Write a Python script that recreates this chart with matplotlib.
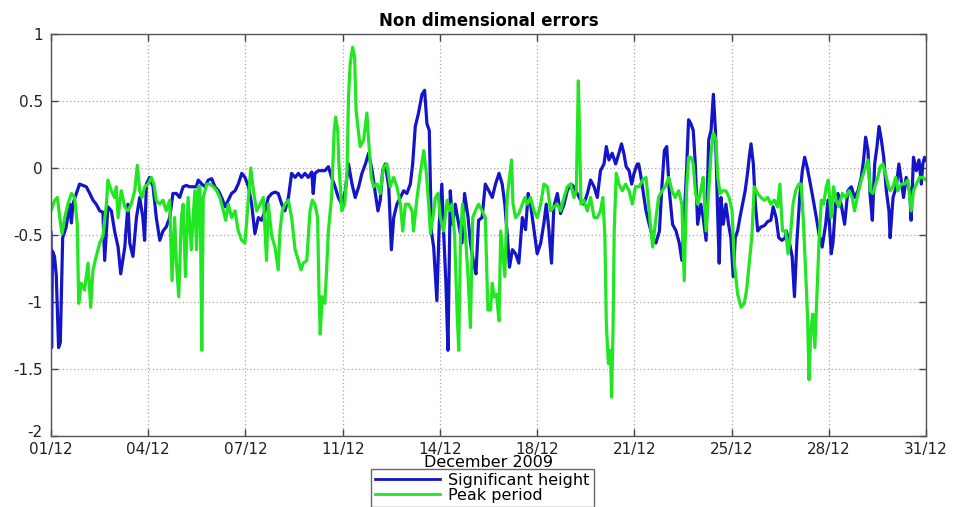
import numpy as np
import matplotlib
matplotlib.use("Agg")
import matplotlib.pyplot as plt
import matplotlib.transforms as mtransforms

# time axis in days since 01/12/2009 00:00
tick_labels = ["01/12", "04/12", "07/12", "11/12", "14/12",
               "18/12", "21/12", "25/12", "28/12", "31/12"]

# significant height error (non dimensional)
hs_day = [0.00, 0.02, 0.05, 0.12, 0.18, 0.26, 0.32, 0.40, 0.52, 0.64, 0.70, 0.75, 0.87, 0.98,
          1.10, 1.21, 1.33, 1.44, 1.55, 1.67, 1.78, 1.84, 1.95, 2.07, 2.18, 2.30, 2.39, 2.53,
          2.64, 2.70, 2.81, 2.93, 3.04, 3.15, 3.21, 3.27, 3.38, 3.50, 3.61, 3.73, 3.84, 3.95,
          4.07, 4.18, 4.30, 4.41, 4.53, 4.64, 4.75, 4.87, 4.98,
          5.05, 5.17, 5.28, 5.39, 5.51, 5.62, 5.74, 5.85, 5.97, 6.08, 6.19, 6.31, 6.42, 6.54,
          6.65, 6.77, 6.88, 6.99, 7.11, 7.22, 7.34, 7.45, 7.57, 7.68, 7.79, 7.91, 8.02, 8.14,
          8.25, 8.37, 8.48, 8.59, 8.71, 8.82, 8.94, 8.99, 9.05, 9.17, 9.28, 9.39, 9.51, 9.62,
          9.74, 9.85, 9.97,
          10.09, 10.20, 10.32, 10.43, 10.55, 10.66, 10.78, 10.89, 11.01, 11.12, 11.21, 11.29,
          11.37, 11.46, 11.58, 11.67, 11.75, 11.86, 11.98, 12.09, 12.20, 12.32, 12.40, 12.49,
          12.60, 12.72, 12.81, 12.89, 12.97, 13.04, 13.12, 13.23, 13.31, 13.40, 13.46, 13.54,
          13.61, 13.69, 13.77, 13.86, 13.98, 14.09, 14.18, 14.30, 14.38, 14.49, 14.57, 14.66,
          14.78, 14.89, 15.01,
          15.13, 15.24, 15.36, 15.47, 15.56, 15.64, 15.72, 15.82, 15.93, 16.04, 16.16, 16.27,
          16.36, 16.44, 16.56, 16.67, 16.79, 16.90, 16.98, 17.07, 17.16, 17.24, 17.36, 17.47,
          17.59, 17.70, 17.82, 17.93, 18.04, 18.16, 18.27, 18.39, 18.50, 18.62, 18.73, 18.84,
          18.96, 19.04, 19.13, 19.24, 19.36, 19.47, 19.56, 19.64, 19.72, 19.82, 19.91, 19.99,
          20.10,
          20.15, 20.23, 20.31, 20.40, 20.51, 20.63, 20.74, 20.86, 20.95, 21.03, 21.11, 21.20,
          21.31, 21.43, 21.54, 21.63, 21.71, 21.79, 21.86, 21.94, 22.02, 22.09, 22.17, 22.28,
          22.36, 22.46, 22.55, 22.63, 22.71, 22.78, 22.86, 22.91, 22.97, 23.05, 23.14, 23.23,
          23.31, 23.39, 23.46, 23.54, 23.62, 23.71, 23.80, 23.88, 23.94, 24.00, 24.08, 24.15,
          24.23, 24.34, 24.46, 24.57, 24.68, 24.76, 24.86, 24.95, 25.06, 25.18,
          25.21, 25.32, 25.41, 25.49, 25.57, 25.67, 25.76, 25.84, 25.92, 26.01, 26.12, 26.24,
          26.33, 26.44, 26.56, 26.64, 26.75, 26.81, 26.90, 26.98, 27.09, 27.21, 27.32, 27.44,
          27.55, 27.67, 27.78, 27.86, 27.93, 28.01, 28.09, 28.16, 28.24, 28.32, 28.39, 28.47,
          28.55, 28.64, 28.73, 28.77, 28.87, 28.98, 29.07, 29.15, 29.23, 29.32, 29.44, 29.49,
          29.57, 29.67, 29.76, 29.84, 29.89, 29.95, 30.00]
hs_err = [-0.48, -1.34, -0.62, -0.66, -0.80, -1.34, -1.30, -0.52, -0.44, -0.27, -0.41, -0.27, -0.19, -0.12,
          -0.13, -0.14, -0.19, -0.24, -0.27, -0.32, -0.33, -0.69, -0.29, -0.32, -0.47, -0.59, -0.79, -0.59,
          -0.27, -0.56, -0.66, -0.37, -0.22, -0.37, -0.54, -0.12, -0.07, -0.14, -0.37, -0.54, -0.47, -0.44,
          -0.37, -0.19, -0.19, -0.22, -0.14, -0.13, -0.14, -0.14, -0.14,
          -0.09, -0.12, -0.14, -0.09, -0.08, -0.14, -0.17, -0.22, -0.29, -0.24, -0.19, -0.17, -0.12, -0.04,
          -0.07, -0.14, -0.27, -0.49, -0.37, -0.39, -0.32, -0.22, -0.19, -0.18, -0.19, -0.27, -0.32, -0.22,
          -0.04, -0.07, -0.04, -0.07, -0.04, -0.07, -0.03, -0.19, -0.04, -0.02, -0.02, -0.02, 0.01, -0.07,
          -0.14, -0.22, -0.27,
          -0.17, 0.03, -0.12, -0.22, -0.14, -0.04, 0.03, 0.11, -0.02, -0.19, -0.32, -0.24,
          -0.02, 0.03, -0.14, -0.61, -0.37, -0.27, -0.22, -0.17, -0.19, -0.12, 0.03, 0.31,
          0.41, 0.55, 0.58, 0.33, 0.28, -0.47, -0.59, -0.99, -0.42, -0.12, -0.47, -0.86,
          -1.36, -0.17, -0.42, -0.27, -0.42, -0.56, -0.19, -0.37, -0.56, -0.71, -0.79, -0.39,
          -0.37, -0.12, -0.17,
          -0.22, -0.12, -0.04, -0.12, -0.27, -0.49, -0.74, -0.61, -0.64, -0.71, -0.37, -0.46,
          -0.19, -0.27, -0.46, -0.64, -0.56, -0.41, -0.27, -0.46, -0.71, -0.29, -0.19, -0.34,
          -0.27, -0.17, -0.12, -0.14, -0.19, -0.24, -0.27, -0.19, -0.09, -0.14, -0.22, -0.02,
          0.03, 0.16, 0.06, 0.11, 0.03, 0.11, 0.18, 0.11, 0.01, -0.02, -0.12, -0.04,
          0.03,
          0.03, -0.07, -0.19, -0.32, -0.42, -0.52, -0.56, -0.47, -0.12, 0.13, 0.16, -0.17,
          -0.42, -0.47, -0.56, -0.69, -0.37, -0.02, 0.36, 0.33, 0.28, 0.03, -0.42, -0.27,
          -0.37, -0.54, 0.21, 0.28, 0.55, 0.28, -0.37, -0.71, -0.22, -0.42, -0.27, -0.42,
          -0.52, -0.81, -0.52, -0.47, -0.37, -0.27, -0.17, -0.04, 0.08, 0.18, 0.03, -0.27,
          -0.47, -0.44, -0.43, -0.40, -0.39, -0.29, -0.37, -0.52, -0.54, -0.52,
          -0.47, -0.56, -0.66, -0.96, -0.56, -0.22, -0.02, 0.08, 0.01, -0.09, -0.22, -0.37,
          -0.49, -0.59, -0.42, -0.24, -0.64, -0.56, -0.27, -0.19, -0.27, -0.42, -0.17, -0.14,
          -0.22, -0.17, -0.07, 0.06, 0.23, 0.13, -0.22, -0.39, 0.03, 0.16, 0.31, 0.21,
          0.08, -0.17, -0.32, -0.52, -0.22, -0.14, 0.03, -0.09, -0.22, -0.07, -0.17, -0.39,
          0.08, -0.02, 0.06, -0.12, 0.03, 0.08, 0.06]

# peak period error (non dimensional)
tp_day = [0.00, 0.13, 0.22, 0.30, 0.38, 0.47, 0.58, 0.70, 0.81, 0.90, 0.95, 1.04, 1.15, 1.27,
          1.36, 1.44, 1.55, 1.67, 1.78, 1.90, 1.95, 2.07, 2.18, 2.24, 2.30, 2.41, 2.53, 2.64,
          2.75, 2.87, 2.96, 3.04, 3.12, 3.21, 3.33, 3.44, 3.53, 3.61, 3.73, 3.84, 3.95, 4.07,
          4.15, 4.24, 4.30, 4.38, 4.47, 4.53, 4.61, 4.70, 4.81, 4.93,
          4.99, 5.05, 5.11, 5.17, 5.22, 5.34, 5.45, 5.57, 5.68, 5.79, 5.91, 5.99, 6.08, 6.19,
          6.31, 6.42, 6.54, 6.65, 6.77, 6.85, 6.94, 7.05, 7.17, 7.28, 7.39, 7.45, 7.57, 7.68,
          7.79, 7.85, 7.93, 8.02, 8.14, 8.25, 8.37, 8.48, 8.57, 8.65, 8.77, 8.82, 8.88, 8.96,
          9.05, 9.14, 9.19, 9.23, 9.30, 9.39, 9.45, 9.51, 9.62, 9.71, 9.76, 9.83, 9.87, 9.97,
          10.07, 10.15, 10.20, 10.26, 10.34, 10.41, 10.46, 10.52, 10.60, 10.72, 10.83, 10.89,
          10.98, 11.06, 11.18, 11.29, 11.40, 11.52, 11.63, 11.75, 11.86, 11.98, 12.06, 12.15,
          12.26, 12.38, 12.43, 12.55, 12.66, 12.78, 12.86, 12.95, 13.01, 13.08, 13.18, 13.27,
          13.35, 13.46, 13.58, 13.66, 13.75, 13.84, 13.92, 13.98, 14.04, 14.11, 14.20, 14.30,
          14.38, 14.46, 14.55, 14.66, 14.78, 14.89, 14.98,
          15.07, 15.13, 15.19, 15.27, 15.36, 15.42, 15.47, 15.56, 15.64, 15.72, 15.79, 15.84,
          15.93, 16.04, 16.16, 16.25, 16.33, 16.44, 16.56, 16.67, 16.79, 16.90, 17.02, 17.13,
          17.24, 17.36, 17.47, 17.59, 17.70, 17.82, 17.93, 18.01, 18.08, 18.12, 18.17, 18.27,
          18.39, 18.50, 18.62, 18.73, 18.84, 18.92, 18.99, 19.04, 19.11, 19.18, 19.22, 19.27,
          19.31, 19.38, 19.47, 19.59, 19.70, 19.82, 19.93, 20.04,
          20.17, 20.28, 20.40, 20.49, 20.57, 20.63, 20.72, 20.83, 20.95, 21.06, 21.18, 21.29,
          21.40, 21.52, 21.63, 21.71, 21.79, 21.86, 21.94, 22.02, 22.09, 22.17, 22.28, 22.36,
          22.46, 22.55, 22.63, 22.71, 22.80, 22.86, 22.94, 23.03, 23.14, 23.25, 23.35, 23.43,
          23.54, 23.66, 23.77, 23.85, 23.94, 24.03, 24.11, 24.23, 24.34, 24.46, 24.57, 24.68,
          24.80, 24.91, 24.99, 25.08,
          25.19, 25.27, 25.35, 25.44, 25.53, 25.64, 25.72, 25.80, 25.87, 25.94, 25.99, 26.05,
          26.12, 26.19, 26.26, 26.33, 26.41, 26.49, 26.58, 26.65, 26.75, 26.83, 26.92, 27.01,
          27.13, 27.24, 27.36, 27.47, 27.55, 27.67, 27.78, 27.89, 28.01, 28.09, 28.18, 28.27,
          28.35, 28.43, 28.52, 28.61, 28.69, 28.77, 28.87, 28.96, 29.04, 29.15, 29.27, 29.38,
          29.49, 29.57, 29.67, 29.78, 29.89, 30.00]
tp_err = [-0.32, -0.24, -0.22, -0.37, -0.49, -0.37, -0.27, -0.19, -0.22, -0.42, -1.01, -0.86, -0.91, -0.71,
          -1.04, -0.76, -0.66, -0.56, -0.51, -0.27, -0.09, -0.17, -0.22, -0.14, -0.37, -0.17, -0.29, -0.32,
          -0.27, -0.17, 0.02, -0.17, -0.22, -0.14, -0.12, -0.07, -0.12, -0.24, -0.27, -0.24, -0.32, -0.24,
          -0.84, -0.37, -0.71, -0.96, -0.37, -0.27, -0.81, -0.22, -0.61, -0.17,
          -0.61, -0.14, -0.14, -1.36, -0.22, -0.12, -0.12, -0.14, -0.17, -0.22, -0.32, -0.39, -0.27, -0.37,
          -0.32, -0.47, -0.54, -0.56, -0.22, 0.00, -0.17, -0.32, -0.27, -0.22, -0.69, -0.27, -0.51, -0.59,
          -0.76, -0.47, -0.32, -0.27, -0.24, -0.37, -0.61, -0.69, -0.76, -0.71, -0.69, -0.52, -0.32, -0.24,
          -0.27, -0.37, -0.94, -1.24, -0.96, -1.01, -0.76, -0.47, -0.22, 0.28, 0.38, 0.28, 0.03, -0.32,
          -0.27, -0.02, 0.53, 0.78, 0.90, 0.83, 0.43, 0.31, 0.16, 0.21, 0.41, 0.21,
          -0.07, -0.14, -0.12, -0.19, 0.01, 0.03, -0.14, -0.07, -0.14, -0.27, -0.47, -0.27,
          -0.27, -0.32, -0.47, -0.22, -0.04, 0.13, -0.02, -0.27, -0.49, -0.39, -0.22, -0.19,
          -0.37, -0.47, -0.24, -0.32, -0.27, -0.51, -1.06, -1.36, -0.51, -0.27, -0.47, -0.81,
          -1.19, -0.37, -0.32, -0.27, -0.32, -0.37, -1.06,
          -1.06, -0.86, -0.96, -0.94, -1.14, -0.47, -0.59, -0.81, -0.22, -0.07, 0.06, -0.27,
          -0.37, -0.34, -0.27, -0.22, -0.27, -0.22, -0.32, -0.37, -0.27, -0.12, -0.14, -0.32,
          -0.29, -0.27, -0.32, -0.22, -0.14, -0.12, -0.22, -0.17, 0.65, 0.28, -0.27, -0.24,
          -0.32, -0.22, -0.37, -0.37, -0.32, -0.22, -0.51, -1.16, -1.46, -1.36, -1.71, -1.21,
          -0.47, -0.04, -0.12, -0.17, -0.12, -0.17, -0.27, -0.14,
          -0.14, -0.09, -0.07, -0.27, -0.47, -0.59, -0.41, -0.22, -0.17, -0.14, -0.07, -0.17,
          -0.22, -0.17, -0.27, -0.84, -0.17, 0.08, 0.08, 0.03, -0.17, -0.27, -0.17, -0.07,
          -0.47, -0.17, 0.11, 0.26, 0.21, -0.07, -0.19, -0.17, -0.17, -0.22, -0.32, -0.71,
          -0.94, -1.04, -1.01, -0.91, -0.71, -0.51, -0.14, -0.19, -0.22, -0.24, -0.22, -0.27,
          -0.24, -0.29, -0.12, -0.47,
          -0.47, -0.64, -0.51, -0.27, -0.17, -0.12, -0.12, -0.41, -0.76, -1.11, -1.58, -1.21,
          -1.09, -1.34, -0.96, -0.56, -0.24, -0.27, -0.14, -0.09, -0.37, -0.14, -0.24, -0.29,
          -0.19, -0.22, -0.17, -0.22, -0.32, -0.19, -0.09, -0.02, 0.06, -0.17, -0.19, -0.12,
          -0.07, 0.01, 0.03, -0.04, -0.12, -0.17, -0.14, -0.07, -0.17, -0.12, -0.12, -0.09,
          -0.32, -0.17, -0.12, -0.07, -0.07, -0.09]

plt.rcParams["font.family"] = ["DejaVu Sans"]

fig = plt.figure(figsize=(9.54, 5.07), dpi=100)
ax = fig.add_axes([51 / 954, 1 - 436 / 507, 875 / 954, 402 / 507])

l1, = ax.plot(hs_day, hs_err, color="#1414c8", lw=2.3)
l2, = ax.plot(tp_day, tp_err, color="#22e622", lw=2.3)

ax.set_xlim(0, 30)
ax.set_ylim(-2, 1)
ax.set_xticks(np.linspace(0, 30, len(tick_labels)))
ax.set_xticklabels(tick_labels)
ax.set_yticks([-2, -1.5, -1, -0.5, 0, 0.5, 1])
ax.set_yticklabels(["-2", "-1.5", "-1", "-0.5", "0", "0.5", "1"])
ax.tick_params(direction="in", top=True, right=True, length=5, width=1,
               color="#444444", labelsize=11, labelcolor="#222222")
ax.tick_params(axis="x", pad=4)
ax.tick_params(axis="y", pad=6)
ax.grid(True, color="#a8a8a8", linestyle=(0, (1, 2)), linewidth=0.9)
for s in ax.spines.values():
    s.set_color("#555555")
    s.set_linewidth(1.0)

# lift the bottom y label a little so it clears the first date label
lowest = ax.get_yticklabels()[0]
lowest.set_transform(lowest.get_transform() +
                     mtransforms.ScaledTranslation(0, 5 / 100, fig.dpi_scale_trans))

ax.set_title("Non dimensional errors", fontsize=12, fontweight="bold", pad=6)
ax.set_xlabel("December 2009", fontsize=11.5, labelpad=-1)

leg = fig.legend([l1, l2], ["Significant height", "Peak period"],
                 loc="upper left", bbox_to_anchor=(371 / 954, 1 - 469 / 507),
                 fontsize=11.5, handlelength=4.1, handletextpad=0.5,
                 labelspacing=0.0, borderpad=0.25, fancybox=False,
                 frameon=True, edgecolor="#444444", borderaxespad=0)
leg.get_frame().set_linewidth(1.0)
for h in leg.get_lines():
    h.set_linewidth(2.0)

fig.savefig("out.png", dpi=100)
